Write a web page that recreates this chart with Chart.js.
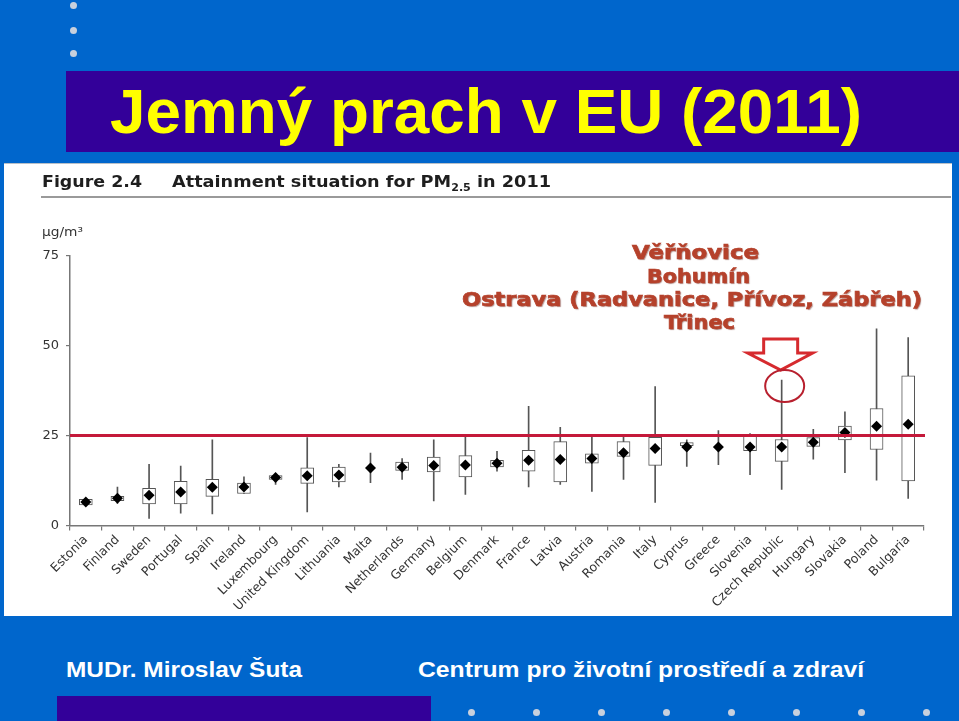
<!DOCTYPE html>
<html>
<head>
<meta charset="utf-8">
<script src="https://cdn.jsdelivr.net/npm/chart.js@4.4.1/dist/chart.umd.min.js"></script>
<style>
body{margin:0;width:959px;height:721px;background:#0066cc;position:relative;overflow:hidden;font-family:"DejaVu Sans",sans-serif}
.abs{position:absolute;white-space:nowrap;transform-origin:0 0}
.dot{position:absolute;width:7px;height:7px;border-radius:50%;background:#c7d0dd}
#titlebar{left:66px;top:71px;width:893px;height:81px;background:#330099}
#title{font:bold 63px/63px "Liberation Sans",sans-serif;color:#ffff00;top:80px}
#panel{left:4px;top:163px;width:948px;height:452px;background:#fff;border-top:1px solid #b8c0c8}
#rule{left:41px;top:196px;width:910px;height:2px;background:#9a9a9a}
.head{font:bold 16px/16px "DejaVu Sans",sans-serif;color:#1e1e1e;top:173.5px;z-index:2}
.head sub{font-size:10px;vertical-align:-4px;line-height:0}
#unit{font:13px/13px "DejaVu Sans",sans-serif;color:#333;left:42px;top:225px;z-index:2}
.note{font:bold 19.5px/19.5px "DejaVu Sans",sans-serif;color:#b5412b;-webkit-text-stroke:0.7px #b5412b;text-shadow:1px 1px 1px rgba(90,20,10,.45);z-index:3}
.foot{font:bold 22px/22px "Liberation Sans",sans-serif;color:#fff;top:659.4px}
#bottombar{left:57px;top:696px;width:374px;height:25px;background:#330099}
#chart{position:absolute;left:0;top:0;z-index:1}
</style>
</head>
<body>
<div class="dot" style="left:70px;top:2px"></div>
<div class="dot" style="left:70px;top:27px"></div>
<div class="dot" style="left:70px;top:50px"></div>
<div id="titlebar" class="abs"></div>
<div id="title" class="abs">Jemný prach v EU (2011)</div>
<div id="panel" class="abs"></div>
<div id="rule" class="abs" style="z-index:2"></div>
<div id="fig" class="abs head">Figure 2.4</div>
<div id="att" class="abs head">Attainment situation for PM<sub>2.5</sub> in 2011</div>
<div id="unit" class="abs">µg/m³</div>
<canvas id="chart" width="959" height="721"></canvas>
<div id="n1" class="abs note" style="top:242.8px">Věřňovice</div>
<div id="n2" class="abs note" style="top:266.5px">Bohumín</div>
<div id="n3" class="abs note" style="top:289.5px">Ostrava (Radvanice, Přívoz, Zábřeh)</div>
<div id="n4" class="abs note" style="top:312.5px">Třinec</div>
<div id="f1" class="abs foot">MUDr. Miroslav Šuta</div>
<div id="f2" class="abs foot">Centrum pro životní prostředí a zdraví</div>
<div id="bottombar" class="abs"></div>
<div class="dot" style="left:468px;top:709px"></div>
<div class="dot" style="left:533px;top:709px"></div>
<div class="dot" style="left:598px;top:709px"></div>
<div class="dot" style="left:663px;top:709px"></div>
<div class="dot" style="left:728px;top:709px"></div>
<div class="dot" style="left:793px;top:709px"></div>
<div class="dot" style="left:858px;top:709px"></div>
<div class="dot" style="left:923px;top:709px"></div>
<script>
// PM2.5 annual means per country, 2011 (µg/m3)
const countries = ['Estonia', 'Finland', 'Sweden', 'Portugal', 'Spain', 'Ireland', 'Luxembourg', 'United Kingdom',
    'Lithuania', 'Malta', 'Netherlands', 'Germany', 'Belgium', 'Denmark', 'France', 'Latvia', 'Austria', 'Romania',
    'Italy', 'Cyprus', 'Greece', 'Slovenia', 'Czech Republic', 'Hungary', 'Slovakia', 'Poland', 'Bulgaria'];
const whiskerMin = [5.8, 6.1, 2.0, 3.4, 3.2, 8.9, 11.4, 3.8, 10.7, 11.9, 12.8, 6.8, 8.6, 15.1, 10.7, 11.4, 9.5, 12.8,
    6.4, 16.4, 16.9, 14.1, 10.0, 18.4, 14.7, 12.6, 7.5];
const whiskerMax = [7.2, 10.7, 17.0, 16.5, 23.8, 13.5, 14.3, 24.4, 17.0, 20.1, 18.6, 23.8, 24.5, 20.6, 33.1, 27.3, 24.5, 24.5,
    38.6, 23.8, 26.4, 25.5, 40.4, 26.7, 31.6, 54.6, 52.2];
const boxLow = [5.7, 6.9, 6.0, 6.0, 8.1, 8.9, 12.8, 11.7, 12.1, null, 15.3, 14.9, 13.5, 16.3, 15.1, 12.1, 17.3, 19.2,
    16.7, 22.2, null, 20.8, 17.8, 22.0, 23.8, 21.1, 12.4];
const boxHigh = [7.3, 8.1, 10.3, 12.3, 12.8, 11.8, 13.9, 16.0, 16.2, null, 17.6, 19.0, 19.4, 18.1, 20.9, 23.3, 19.9, 23.3,
    24.5, 23.0, null, 25.0, 23.9, 24.4, 27.6, 32.5, 41.6];
const means = [6.5, 7.6, 8.4, 9.3, 10.6, 10.7, 13.3, 13.8, 14.0, 16.0, 16.2, 16.7, 16.8, 17.3, 18.1, 18.3, 18.6, 20.2,
    21.4, 21.8, 21.8, 21.8, 21.8, 23.1, 25.8, 27.6, 28.1];
const yTicks = [0, 25, 50, 75];
const limitValue = 25;
const highlight = 'Czech Republic';

// stretch a text element to a given width
function fit(id, left, width) {
    const el = document.getElementById(id);
    const w = el.getBoundingClientRect().width;
    el.style.left = left + 'px';
    el.style.transform = `scaleX(${width / w})`;
}
fit('title', 110, 752);
fit('fig', 42, 100);
fit('att', 172, 379);
fit('unit', 42, 41);
fit('n1', 632, 127);
fit('n2', 647, 103);
fit('n3', 462, 460);
fit('n4', 664, 71);
fit('f1', 66, 236);
fit('f2', 418, 446);

const boxes = boxLow.map((v, i) => v === null ? null : [v, boxHigh[i]]);
const ranges = whiskerMin.map((v, i) => [v, whiskerMax[i]]);

const limitAndNote = {
    id: 'limitAndNote',
    afterDatasetsDraw(chart) {
        const { ctx, chartArea, scales: { x, y } } = chart;
        const yl = y.getPixelForValue(limitValue);
        ctx.save();
        ctx.strokeStyle = '#c4193a';
        ctx.lineWidth = 3;
        ctx.beginPath();
        ctx.moveTo(chartArea.left, yl);
        ctx.lineTo(chartArea.right + 1, yl);
        ctx.stroke();

        // arrow + circle pointing at the highlighted country
        const idx = countries.indexOf(highlight);
        const cx = x.getPixelForValue(idx) - 1;
        const top = y.getPixelForValue(whiskerMax[idx]);
        ctx.strokeStyle = '#d62a2e';
        ctx.lineWidth = 3;
        ctx.lineJoin = 'miter';
        ctx.beginPath();
        ctx.moveTo(cx - 17, top - 41);
        ctx.lineTo(cx + 17, top - 41);
        ctx.lineTo(cx + 17, top - 27);
        ctx.lineTo(cx + 32, top - 27);
        ctx.lineTo(cx, top - 10);
        ctx.lineTo(cx - 33, top - 27);
        ctx.lineTo(cx - 17, top - 27);
        ctx.closePath();
        ctx.stroke();

        ctx.strokeStyle = '#b8202e';
        ctx.lineWidth = 2;
        ctx.beginPath();
        ctx.ellipse(cx + 4, top + 6, 19.5, 16, 0, 0, Math.PI * 2);
        ctx.stroke();
        ctx.restore();
    }
};

const ctx = document.getElementById('chart').getContext('2d');
const myChart = new Chart(ctx, {
    type: 'bar',
    data: {
        labels: countries,
        datasets: [
            {
                type: 'line',
                label: 'Mean',
                data: means,
                showLine: false,
                pointStyle: 'rectRot',
                pointRadius: 5.5,
                pointBackgroundColor: '#000',
                pointBorderWidth: 0,
                order: 0
            },
            {
                label: 'Box',
                data: boxes,
                backgroundColor: '#fff',
                borderColor: '#555',
                borderWidth: 1,
                borderSkipped: false,
                barThickness: 13,
                grouped: false,
                order: 1
            },
            {
                label: 'Range',
                data: ranges,
                backgroundColor: '#555',
                borderWidth: 0,
                barThickness: 1,
                grouped: false,
                order: 2
            }
        ]
    },
    options: {
        responsive: false,
        animation: false,
        devicePixelRatio: 1,
        layout: { padding: { top: 255.5, right: 35, bottom: 105.5, left: 0 } },
        plugins: { legend: { display: false }, tooltip: { enabled: false } },
        scales: {
            x: {
                offset: true,
                grid: { offset: true, drawOnChartArea: false, tickLength: 5, color: '#777', lineWidth: 1.2 },
                border: { color: '#777', width: 1.5 },
                ticks: {
                    autoSkip: false, maxRotation: 45, minRotation: 45, padding: 2,
                    color: '#333', font: { family: 'DejaVu Sans', size: 12.5 }
                },
                afterFit: s => { s.height = 90; }
            },
            y: {
                min: 0,
                max: 75,
                afterBuildTicks: s => { s.ticks = yTicks.map(v => ({ value: v })); },
                grid: { drawOnChartArea: false, tickLength: 4, color: '#777', lineWidth: 1.2 },
                border: { color: '#777', width: 1.5 },
                ticks: { padding: 7, color: '#333', font: { family: 'DejaVu Sans', size: 13 } },
                afterFit: s => { s.width = 70; }
            }
        }
    },
    plugins: [limitAndNote]
});
</script>
</body>
</html>
